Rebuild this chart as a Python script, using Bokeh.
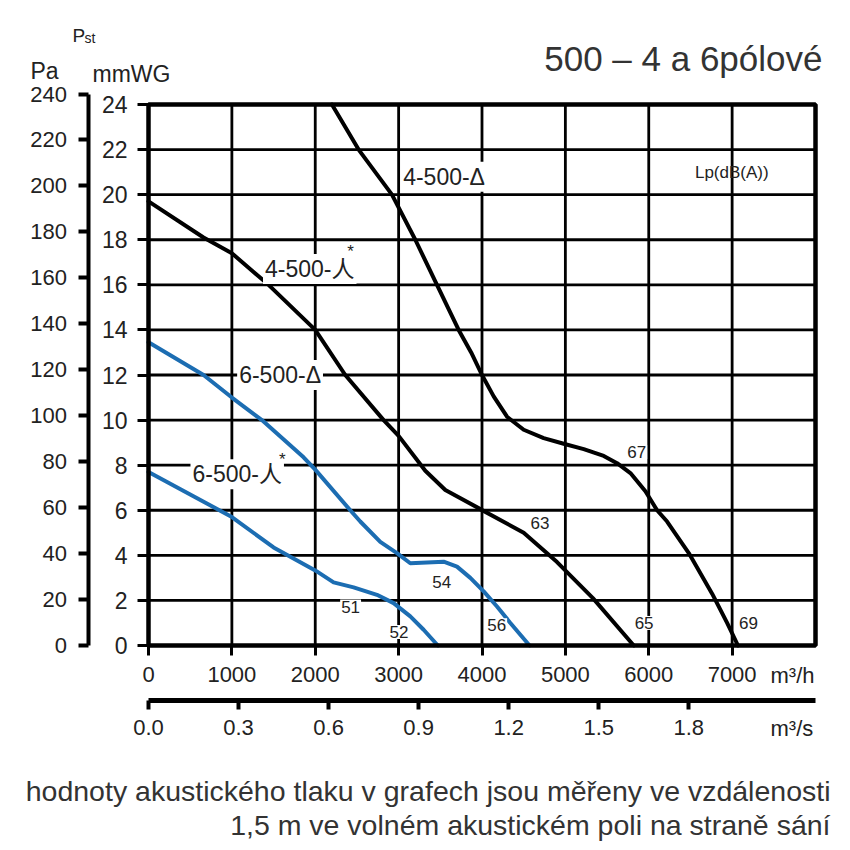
from bokeh.plotting import figure
from bokeh.models import Range1d, LinearAxis, FixedTicker, Label, PrintfTickFormatter
from bokeh.embed import file_html
from bokeh.resources import INLINE

# fan curves: flow in m3/h, static pressure in mmWG
q_4d = [2200, 2520, 2920, 3200, 3460, 3720, 3870, 4000, 4140, 4300, 4500, 4740, 4980, 5220, 5460, 5620, 5780, 5960, 6100, 6220, 6480, 6760, 6940, 7070]
p_4d = [24.0, 22.0, 20.0, 18.0, 16.0, 14.0, 13.0, 12.0, 11.05, 10.15, 9.57, 9.2, 8.95, 8.71, 8.41, 8.09, 7.65, 6.84, 6.0, 5.5, 4.1, 2.3, 1.0, 0.0]

q_4y = [0, 660, 1000, 1440, 2000, 2360, 2820, 3000, 3320, 3560, 3980, 4500, 4900, 5330, 5820]
p_4y = [19.7, 18.1, 17.4, 16.0, 14.0, 12.0, 10.0, 9.3, 7.75, 6.9, 6.05, 5.0, 3.7, 2.1, 0.0]

q_6d = [0, 660, 1000, 1360, 1860, 2000, 2420, 2540, 2780, 2980, 3140, 3340, 3540, 3700, 3860, 4020, 4180, 4340, 4570]
p_6d = [13.45, 12.0, 11.0, 10.0, 8.35, 7.8, 6.0, 5.5, 4.6, 4.1, 3.65, 3.68, 3.72, 3.5, 3.0, 2.4, 1.73, 1.0, 0.0]

q_6y = [0, 500, 1000, 1500, 2000, 2220, 2460, 2740, 2940, 3140, 3300, 3470]
p_6y = [7.7, 6.7, 5.7, 4.35, 3.33, 2.8, 2.58, 2.25, 1.88, 1.29, 0.7, 0.0]

# sound pressure levels Lp dB(A) written along the curves
db_values = [51, 52, 54, 56, 63, 65, 67, 69]
db_q = [2424, 3004, 3516, 4176, 4696, 5944, 5856, 7196]
db_p = [1.73, 0.6, 2.8, 0.9, 5.43, 1.0, 8.58, 1.0]

# tick values
flow_ticks = [0, 1000, 2000, 3000, 4000, 5000, 6000, 7000]
flow_s_ticks = [0.0, 0.3, 0.6, 0.9, 1.2, 1.5, 1.8]
mmwg_ticks = [0, 2, 4, 6, 8, 10, 12, 14, 16, 18, 20, 22, 24]
pa_ticks = [0, 20, 40, 60, 80, 100, 120, 140, 160, 180, 200, 220, 240]

FLOW_MAX = 8000
PST_MAX = 24
PA_PER_MM = 9.81
BLUE = "#1c6db2"
INK = "#222222"
FONT = "Liberation Sans"
FONT_CJK = "Liberation Sans, Noto Sans CJK SC"

# the frame fills the whole canvas; axes sit at fixed places inside it
W = H = 842
PX_X0, PX_X1 = 148, 815     # pixel of flow 0 and 8000
PX_Y0, PX_Y1 = 645, 104     # pixel of 0 and 24 mmWG
sx = (PX_X1 - PX_X0) / FLOW_MAX
sy = (PX_Y0 - PX_Y1) / PST_MAX


def ix(px):
    return (px - PX_X0) / sx


def iy(py):
    return (PX_Y0 - py) / sy


x_lo, x_hi = ix(0), ix(W)
y_lo, y_hi = iy(H), iy(0)

p = figure(width=W, height=H, x_range=Range1d(x_lo, x_hi), y_range=Range1d(y_lo, y_hi),
           output_backend="svg", toolbar_location=None, title=None,
           x_axis_location=None, y_axis_location=None, min_border=0,
           outline_line_color=None)
p.grid.visible = False
p.extra_y_ranges = {"pa": Range1d(y_lo * PA_PER_MM, y_hi * PA_PER_MM)}
p.extra_x_ranges = {"ms": Range1d(x_lo / 3600, x_hi / 3600)}

tick_font = dict(major_label_text_font=FONT, major_label_text_color=INK, minor_tick_line_color=None,
                 major_tick_in=0)

# m3/h axis along the bottom edge of the box
xa = LinearAxis(fixed_location=0, bounds=(0, flow_ticks[-1]), ticker=FixedTicker(ticks=flow_ticks),
                axis_line_color=None, major_tick_out=10, major_tick_line_width=3,
                major_label_standoff=11, major_label_text_font_size="22px", **tick_font)
p.add_layout(xa, "below")

# m3/s axis below it
ms_axis = LinearAxis(x_range_name="ms", fixed_location=iy(700), bounds=(0, FLOW_MAX / 3600),
                     ticker=FixedTicker(ticks=flow_s_ticks), formatter=PrintfTickFormatter(format="%.1f"),
                     axis_line_width=5, major_tick_out=9, major_tick_line_width=4,
                     major_label_standoff=10, major_label_text_font_size="22px", **tick_font)
p.add_layout(ms_axis, "below")

# mmWG axis on the left edge of the box
ya = LinearAxis(fixed_location=0, bounds=(0, PST_MAX), ticker=FixedTicker(ticks=mmwg_ticks),
                axis_line_color=None, major_tick_out=11, major_tick_line_width=3,
                major_label_standoff=10, major_label_text_font_size="23px", **tick_font)
p.add_layout(ya, "left")

# Pa axis further left
pa_axis = LinearAxis(y_range_name="pa", fixed_location=ix(87.5), bounds=(0, pa_ticks[-1]),
                     ticker=FixedTicker(ticks=pa_ticks), axis_line_width=4, major_tick_out=10,
                     major_tick_line_width=4, major_label_standoff=11,
                     major_label_text_font_size="22px", **tick_font)
p.add_layout(pa_axis, "left")

# grid
gx = flow_ticks[1:]
gy = mmwg_ticks[1:-1]
p.segment(x0=gx, y0=[0] * len(gx), x1=gx, y1=[PST_MAX] * len(gx), line_color="black", line_width=2.8)
p.segment(x0=[0] * len(gy), y0=gy, x1=[FLOW_MAX] * len(gy), y1=gy, line_color="black", line_width=2.8)

# curves
for q, ps, col in [(q_4d, p_4d, "black"), (q_4y, p_4y, "black"), (q_6d, p_6d, BLUE), (q_6y, p_6y, BLUE)]:
    p.line(q, ps, line_color=col, line_width=4, line_join="round", line_cap="round")

p.quad(left=0, right=FLOW_MAX, bottom=0, top=PST_MAX, fill_color=None, line_color="black", line_width=4.5)


def lab(x, y, text, size, align="center", font=FONT, color=INK, bg=None, pad=0):
    kw = {}
    if bg:
        kw = dict(background_fill_color=bg, padding=pad)
    p.add_layout(Label(x=x, y=y, text=text, text_align=align, text_baseline="middle",
                       text_font=font, text_font_size=size, text_color=color, **kw))


# curve names
lab(3545, 20.8, "4-500-Δ", "23px", bg="white", pad=2)
lab(1934, 16.7, "4-500-人", "23px", font=FONT_CJK, bg="white", pad=2)
lab(2424, 17.5, "*", "17px")
lab(1578, 12.0, "6-500-Δ", "23px", bg="white", pad=2)
lab(1064, 7.6, "6-500-人", "23px", font=FONT_CJK, bg="white", pad=2)
lab(1604, 8.25, "*", "17px")

for v, q, ps in zip(db_values, db_q, db_p):
    lab(q, ps, str(v), "17px", bg="white", pad=1)
lab(6996, 21.0, "Lp(dB(A))", "17px")

# texts around the box (positions are the text centres in the picture)
lab(ix(822), iy(58), "500 – 4 a 6pólové", "35px", align="right", color="#333333")
lab(ix(72), iy(35), "P", "19px", align="left")
lab(ix(84), iy(37), "st", "14px", align="left")
lab(ix(30), iy(70), "Pa", "23px", align="left")
lab(ix(92), iy(73), "mmWG", "23px", align="left")
lab(ix(770), iy(675), "m³/h", "22px", align="left")
lab(ix(770), iy(728), "m³/s", "22px", align="left")
lab(ix(830), iy(790), "hodnoty akustického tlaku v grafech jsou měřeny ve vzdálenosti", "28.5px",
    align="right", color="#333333")
lab(ix(830), iy(824), "1,5 m ve volném akustickém poli na straně sání", "28.5px",
    align="right", color="#333333")

open("out.html", "w").write(file_html(p, INLINE))
